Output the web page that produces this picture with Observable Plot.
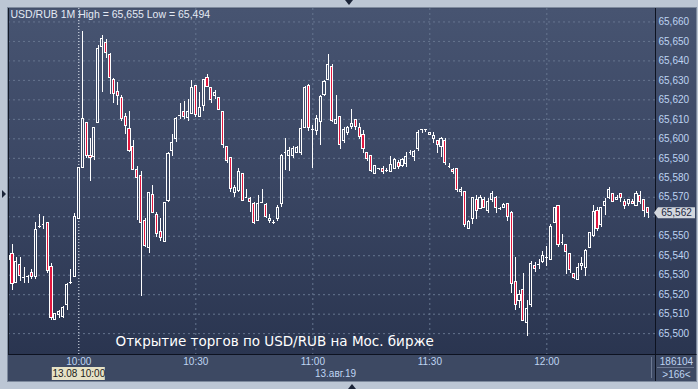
<!DOCTYPE html>
<html><head><meta charset="utf-8">
<script src="https://cdn.jsdelivr.net/npm/d3@7"></script>
<script src="https://cdn.jsdelivr.net/npm/@observablehq/plot@0.6"></script>
<style>
html,body{margin:0;padding:0;background:#bcc6d4;overflow:hidden}
#chart svg{display:block}
</style></head><body><div id="chart"></div>
<script>
// ---- data (USD/RUB, 1-minute bars, 13.08.2019 from 09:42) ----
const startTime = Date.UTC(2019, 7, 13, 9, 42);
const opens = [65.538,65.541,65.526,65.535,65.529,65.5295,65.531,65.529,65.555,65.556,
65.557,65.534,65.507,65.5095,65.5085,65.5145,65.5264,65.529,65.559,65.585,
65.608,65.591,65.5906,65.608,65.647,65.649,65.643,65.630,65.624,65.621,
65.611,65.605,65.596,65.584,65.581,65.558,65.544,65.571,65.561,65.552,
65.547,65.568,65.594,65.600,65.612,65.614,65.6106,65.613,65.627,65.611,
65.617,65.631,65.626,65.622,65.621,65.614,65.596,65.590,65.572,65.573,
65.582,65.5697,65.569,65.5666,65.558,65.5675,65.566,65.5577,65.5572,65.559,
65.5666,65.593,65.5914,65.5914,65.5928,65.5926,65.6055,65.627,65.6046,65.604,
65.6085,65.6227,65.6304,65.637,65.6077,65.611,65.5988,65.603,65.6063,65.6097,
65.6056,65.6022,65.5928,65.591,65.582,65.5846,65.5843,65.5837,65.5829,65.5844,
65.5877,65.5861,65.5872,65.5928,65.5906,65.5947,65.6046,65.6046,65.602,65.600,
65.5991,65.5957,65.599,65.5858,65.584,65.5843,65.5726,65.5728,65.5538,65.5586,
65.5687,65.5641,65.5687,65.5629,65.5687,65.5697,65.5641,65.5646,65.5666,65.562,
65.5264,65.5167,65.5222,65.5054,65.5145,65.5347,65.5355,65.5367,65.5389,65.5379,
65.5567,65.5656,65.5466,65.5456,65.541,65.5307,65.5276,65.5347,65.5338,65.5441,
65.5502,65.5632,65.5557,65.5654,65.5695,65.5718,65.5687,65.5718,65.5678,65.5666,
65.5678,65.5656,65.5707,65.5687,65.5646];
const highs = [65.540,65.546,65.539,65.539,65.534,65.530,65.533,65.557,65.561,65.560,
65.557,65.536,65.510,65.512,65.514,65.526,65.533,65.5615,65.585,65.655,
65.608,65.600,65.606,65.648,65.653,65.651,65.644,65.631,65.629,65.622,
65.613,65.614,65.599,65.586,65.583,65.559,65.572,65.576,65.562,65.559,
65.5675,65.593,65.602,65.611,65.618,65.619,65.620,65.630,65.627,65.624,
65.630,65.633,65.626,65.625,65.621,65.614,65.596,65.590,65.576,65.5846,
65.582,65.574,65.570,65.5675,65.571,65.574,65.5666,65.561,65.558,65.5658,
65.592,65.600,65.5957,65.596,65.596,65.610,65.627,65.628,65.607,65.612,
65.622,65.630,65.6433,65.638,65.622,65.611,65.6056,65.6063,65.615,65.6097,
65.6077,65.6043,65.5928,65.591,65.5858,65.5846,65.586,65.585,65.591,65.590,
65.5889,65.590,65.593,65.594,65.594,65.6043,65.6046,65.6046,65.6031,65.603,
65.5991,65.6008,65.600,65.5875,65.5846,65.585,65.5752,65.5728,65.5581,65.5697,
65.5709,65.5709,65.5697,65.5692,65.573,65.5706,65.565,65.5666,65.5666,65.5629,
65.5389,65.5222,65.5307,65.517,65.537,65.5367,65.538,65.5424,65.5447,65.556,
65.5646,65.5656,65.5509,65.5456,65.541,65.5311,65.5359,65.5389,65.5432,65.5518,
65.5656,65.5646,65.5646,65.5692,65.5752,65.5718,65.5709,65.5721,65.5687,65.5687,
65.5687,65.573,65.573,65.5687,65.5646];
const lows = [65.494,65.522,65.526,65.527,65.526,65.526,65.528,65.528,65.554,65.5535,
65.531,65.507,65.507,65.5076,65.508,65.512,65.525,65.529,65.559,65.585,
65.590,65.578,65.589,65.608,65.624,65.641,65.623,65.618,65.617,65.609,
65.602,65.593,65.584,65.558,65.519,65.544,65.541,65.5615,65.5495,65.5475,
65.5466,65.5675,65.591,65.598,65.610,65.610,65.609,65.6125,65.611,65.611,
65.614,65.6265,65.618,65.620,65.6145,65.595,65.5875,65.5726,65.570,65.5726,
65.568,65.5697,65.562,65.556,65.5577,65.5666,65.559,65.5567,65.556,65.5577,
65.5646,65.5837,65.583,65.5897,65.5924,65.5914,65.6055,65.604,65.5846,65.6017,
65.5966,65.6217,65.6304,65.6085,65.6077,65.5947,65.5978,65.6017,65.605,65.6043,
65.5996,65.5926,65.5885,65.5825,65.582,65.584,65.5817,65.5829,65.5829,65.5844,
65.5844,65.5855,65.5855,65.5914,65.5885,65.5937,65.6029,65.6032,65.602,65.5978,
65.5926,65.5906,65.5863,65.5846,65.5817,65.5725,65.5706,65.5547,65.5538,65.5559,
65.5586,65.5641,65.5641,65.5618,65.5675,65.5618,65.563,65.5646,65.5577,65.5208,
65.5119,65.5128,65.5064,65.4986,65.5133,65.5316,65.5328,65.5358,65.5345,65.5379,
65.5567,65.5444,65.5453,65.5304,65.5307,65.5276,65.5276,65.5324,65.5294,65.5441,
65.5495,65.5526,65.5547,65.5606,65.5687,65.5675,65.5683,65.5675,65.5637,65.5654,
65.5663,65.5656,65.5663,65.5598,65.5589];
const closes = [65.540,65.5256,65.537,65.5295,65.529,65.5295,65.529,65.553,65.555,65.556,
65.532,65.508,65.510,65.511,65.513,65.525,65.5264,65.560,65.585,65.610,
65.591,65.590,65.6056,65.646,65.651,65.644,65.631,65.623,65.622,65.610,
65.6065,65.594,65.584,65.580,65.557,65.545,65.572,65.562,65.551,65.549,
65.567,65.592,65.598,65.610,65.612,65.611,65.614,65.626,65.612,65.616,
65.630,65.6265,65.620,65.6234,65.615,65.597,65.5885,65.574,65.575,65.583,
65.568,65.5697,65.5675,65.557,65.5666,65.5675,65.560,65.5589,65.5572,65.5646,
65.591,65.593,65.594,65.595,65.5952,65.6048,65.626,65.6055,65.6046,65.610,
65.6214,65.629,65.638,65.6094,65.6097,65.597,65.6043,65.6056,65.6077,65.6063,
65.6008,65.5947,65.5897,65.5837,65.5858,65.5846,65.5829,65.5837,65.5868,65.5889,
65.5855,65.5889,65.5909,65.5928,65.593,65.6031,65.6046,65.6046,65.6031,65.6012,
65.5967,65.600,65.5875,65.5858,65.583,65.5735,65.5738,65.5557,65.5572,65.5697,
65.5629,65.5697,65.5646,65.5678,65.5718,65.5646,65.5641,65.5658,65.5598,65.5256,
65.5145,65.5199,65.5064,65.5128,65.5358,65.5333,65.5355,65.5401,65.5389,65.555,
65.5646,65.5454,65.5466,65.5418,65.5328,65.5287,65.5338,65.5359,65.5422,65.5518,
65.5622,65.5536,65.5646,65.5678,65.5738,65.5675,65.5697,65.5697,65.5654,65.5687,
65.5666,65.5718,65.5675,65.5629,65.5618];
const priceTicks = [65.50,65.51,65.52,65.53,65.54,65.55,65.56,65.57,65.58,65.59,65.60,65.61,65.62,65.63,65.64,65.65,65.66];
const timeTickLabels = ["10:00","10:30","11:00","11:30","12:00"];
const headerText = "USD/RUB 1M High = 65,655 Low = 65,494";
const captionText = "Открытие торгов по USD/RUB на Мос. бирже";
const dayLabel = "13.авг.19";
const cursorLabel = "13.08 10:00";
const volumeLabel = "186104";
const countLabel = ">166<";

// ---- build table ----
const candles = opens.map((o, i) => ({
  t: new Date(startTime + i * 60000), o, h: highs[i], l: lows[i], c: closes[i]
}));
const ups = candles.filter(d => d.c > d.o);
const downs = candles.filter(d => d.c < d.o);
const dojis = candles.filter(d => d.c === d.o);
const timeTicks = timeTickLabels.map(s => { const [h, m] = s.split(":").map(Number); return new Date(Date.UTC(2019, 7, 13, h, m)); });
const lastClose = closes[closes.length - 1];
const fmtPrice = v => v.toFixed(3).replace(".", ",");
// the tick label hidden behind the last-price marker in the reference
const labelTicks = priceTicks.filter(v => Math.abs(v - lastClose) > 0.004);

const W = 698, H = 389, mL = 8, mR = 43, mT = 8, mB = 35;
const RED = "#e2173e", LBLUE = "#bfd4f2";
const half = 16000;
const bodyX1 = d => new Date(+d.t - half), bodyX2 = d => new Date(+d.t + half);

const chart = Plot.plot({
  width: W, height: H,
  marginLeft: mL, marginRight: mR, marginTop: mT, marginBottom: mB,
  style: {background: "transparent", fontFamily: "Liberation Sans, Arial, sans-serif", fontSize: "10px", overflow: "visible"},
  x: {type: "utc", domain: [new Date(startTime - 1500), new Date(startTime + 9952000)]},
  y: {domain: [65.4893, 65.6669]},
  marks: [
    Plot.frame({fill: "url(#plotBg)", stroke: null}),
    Plot.gridY(priceTicks, {stroke: "#66758f", strokeOpacity: 1, strokeDasharray: "2,3"}),
    Plot.gridX(timeTicks.slice(1), {stroke: "#66758f", strokeOpacity: 1, strokeDasharray: "2,3"}),
    Plot.ruleX([timeTicks[0]], {stroke: "#e8eef8", strokeDasharray: "1,2"}),
    Plot.ruleX(candles, {x: "t", y1: "l", y2: "h", stroke: "white", clip: true, shapeRendering: "crispEdges"}),
    Plot.rect(ups, {x1: bodyX1, x2: bodyX2, y1: "o", y2: "c", fill: "url(#plotBg)", stroke: "white", clip: true, shapeRendering: "crispEdges"}),
    Plot.rect(downs, {x1: bodyX1, x2: bodyX2, y1: "o", y2: "c", fill: RED, stroke: "white", clip: true, shapeRendering: "crispEdges"}),
    Plot.ruleY(dojis, {y: "o", x1: d => new Date(+d.t - 20000), x2: d => new Date(+d.t + 20000), stroke: "white", clip: true, shapeRendering: "crispEdges"}),
    Plot.axisY(labelTicks, {anchor: "right", tickSize: 0, tickPadding: 3, tickFormat: fmtPrice, color: LBLUE, label: null}),
    Plot.axisX(timeTicks, {anchor: "bottom", tickSize: 0, tickPadding: 3, tickFormat: d3.utcFormat("%H:%M"), color: LBLUE, label: null}),
    Plot.text([headerText], {text: d => d, frameAnchor: "top-left", dx: 2, dy: 2, textAnchor: "start", lineAnchor: "top", fill: "#e4eaf4", fontSize: 10.5}),
    Plot.text([captionText], {text: d => d, frameAnchor: "bottom-left", dx: 107, dy: -13, textAnchor: "start", lineAnchor: "middle", fill: "white", fontFamily: "DejaVu Sans", fontSize: 13.5, letterSpacing: 0.25}),
    Plot.text([dayLabel], {text: d => d, frameAnchor: "bottom", dx: 3.5, dy: 19, lineAnchor: "middle", fill: LBLUE}),
    Plot.text([timeTicks[0]], {x: d => d, text: () => cursorLabel, frameAnchor: "bottom", dy: 19.5, lineAnchor: "middle", fill: "#1a1a1a"}),
    Plot.text([volumeLabel], {text: d => d, frameAnchor: "bottom-right", dx: 21, dy: 7, textAnchor: "middle", lineAnchor: "middle", fill: LBLUE}),
    Plot.text([countLabel], {text: d => d, frameAnchor: "bottom-right", dx: 21, dy: 20, textAnchor: "middle", lineAnchor: "middle", fill: LBLUE}),
    Plot.text([lastClose], {y: d => d, text: d => fmtPrice(d), frameAnchor: "right", dx: 21, textAnchor: "middle", lineAnchor: "middle", fill: "#1b2640", className: "last-price"})
  ]
});

const svg = d3.select(chart);
const xs = chart.scale("x"), ys = chart.scale("y");
const back = svg.insert("g", ":first-child");
const defs = svg.insert("defs", ":first-child");
const grad = defs.append("linearGradient").attr("id", "plotBg").attr("gradientUnits", "userSpaceOnUse")
  .attr("x1", 0).attr("y1", mT).attr("x2", 0).attr("y2", H - mB);
grad.append("stop").attr("offset", 0).attr("stop-color", "#475471");
grad.append("stop").attr("offset", 0.5).attr("stop-color", "#3a4663");
grad.append("stop").attr("offset", 1).attr("stop-color", "#2a3550");
// frame and panels
back.append("rect").attr("x", 7.5).attr("y", 7.5).attr("width", 689).attr("height", 374).attr("fill", "#3d4963").attr("stroke", "#7e8a9d");
back.append("rect").attr("x", W - mR).attr("y", mT).attr("width", 41).attr("height", H - mB - mT).attr("fill", "url(#plotBg)");
const cx = xs.apply(timeTicks[0]);
back.append("rect").attr("x", cx - 26.5).attr("y", 367).attr("width", 53).attr("height", 13).attr("fill", "#e6e2c6");
back.append("line").attr("x1", 651.5).attr("x2", 651.5).attr("y1", 357).attr("y2", 378).attr("stroke", "#6c7891");
back.append("line").attr("x1", 657).attr("x2", 694).attr("y1", 367.5).attr("y2", 367.5).attr("stroke", "#6c7891");
// triangles
const triColor = "#1b2438";
back.append("path").attr("d", "M345,0 L353,0 L349,5 Z").attr("fill", triColor);
back.append("path").attr("d", "M348,389 L356,389 L352,384 Z").attr("fill", triColor);
back.append("path").attr("d", "M2,190 L6,194 L2,198 Z").attr("fill", triColor);
// axis lines on top
const front = svg.append("g");
front.append("line").attr("x1", 8).attr("x2", 696.5).attr("y1", H - mB + 0.5).attr("y2", H - mB + 0.5).attr("stroke", "#0d1220");
front.append("line").attr("x1", W - mR + 0.5).attr("x2", W - mR + 0.5).attr("y1", 8).attr("y2", 381).attr("stroke", "#0d1220");
front.append("line").attr("x1", 8.5).attr("x2", 8.5).attr("y1", 8).attr("y2", 354).attr("stroke", "#141a28");
// last price marker
const yl = ys.apply(lastClose);
front.append("path").attr("d", `M654,${yl} L658,${yl - 5.5} L695,${yl - 5.5} L695,${yl + 5.5} L658,${yl + 5.5} Z`).attr("fill", "#d3d7de");
svg.selectAll(".last-price").raise();

document.getElementById("chart").appendChild(chart);
</script></body></html>
